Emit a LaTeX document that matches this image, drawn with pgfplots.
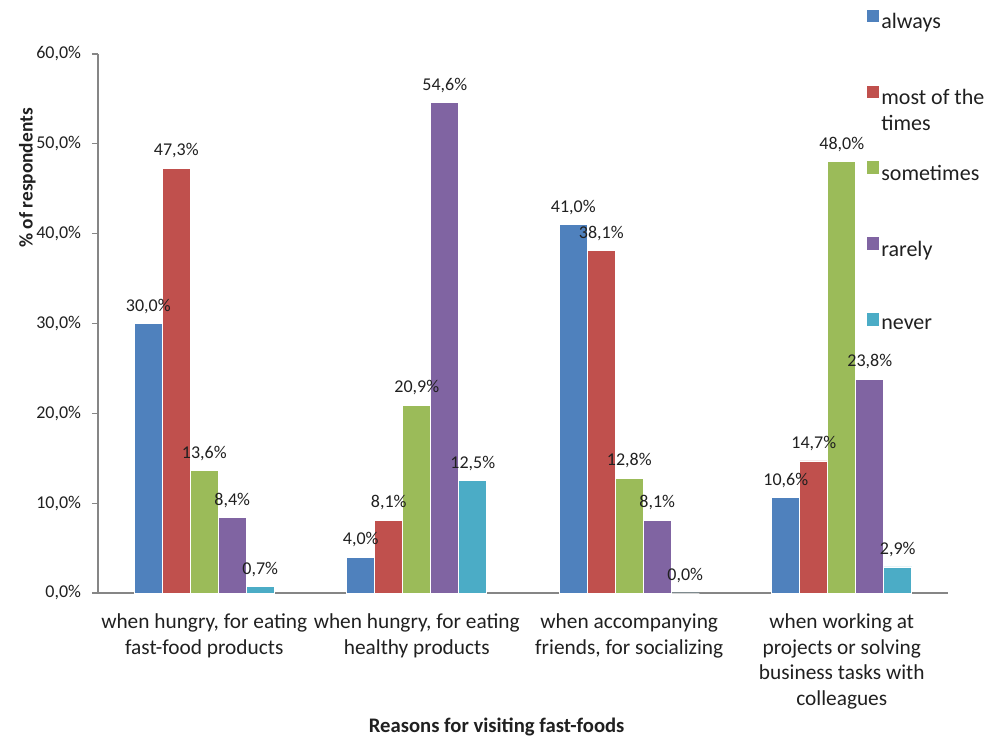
\documentclass[border=0pt]{standalone}
\usepackage{fontspec}
\setmainfont{Carlito}
\usepackage{pgfplots}
\pgfplotsset{compat=1.18}
\definecolor{cA}{HTML}{4F81BD}
\definecolor{cB}{HTML}{C0504D}
\definecolor{cC}{HTML}{9BBB59}
\definecolor{cD}{HTML}{8064A2}
\definecolor{cE}{HTML}{4BACC6}
\definecolor{axgray}{HTML}{868686}
\definecolor{txt}{HTML}{202020}
\begin{document}
\begin{tikzpicture}
\useasboundingbox (-73.5pt,-108pt) rectangle (668.25pt,444.75pt);
\begin{axis}[
  at={(0pt,0pt)}, anchor=south west,
  scale only axis,
  width=637.5pt, height=404.25pt,
  ybar=0pt, bar width=21pt,
  xmin=-0.5, xmax=3.5,
  ymin=0, ymax=60,
  axis x line=bottom, axis y line=left,
  axis line style={-, axgray, line width=0.8pt},
  xtick={0,1,2,3},
  xticklabels={{when hungry, for eating\\fast-food products},{when hungry, for eating\\healthy products},{when accompanying\\friends, for socializing},{when working at\\projects or solving\\business tasks with\\colleagues}},
  xtick style={draw=none},
  xticklabel style={align=center, anchor=north, inner sep=0pt, yshift=-11pt, text=txt, font=\fontsize{16}{19.2}\selectfont},
  ytick={0,10,...,60},
  ytick style={axgray, line width=0.8pt},
  major tick length=4.5pt,
  tick align=outside,
  /pgf/number format/assume math mode=true,
  yticklabel={\pgfmathprintnumber[fixed,fixed zerofill,precision=1,use comma]{\tick}\%},
  yticklabel style={font=\fontsize{13.5}{15}\selectfont, text=txt, inner sep=0pt, xshift=-8pt},
  nodes near coords={\pgfmathprintnumber[fixed,fixed zerofill,precision=1,use comma]{\pgfplotspointmeta}\%},
  nodes near coords style={font=\fontsize{13.5}{15}\selectfont, text=txt, anchor=south, yshift=4pt},
  xlabel={Reasons for visiting fast-foods},
  xlabel style={at={(axis description cs:0.469,-0.249)}, anchor=center, text=txt, font=\bfseries\fontsize{15.5}{18}\selectfont},
  ylabel={\% of respondents},
  ylabel style={at={(axis description cs:-0.083,0.77)}, anchor=center, text=txt, font=\bfseries\fontsize{14.5}{17}\selectfont},
  legend style={at={(axis description cs:0.904,1.083)}, anchor=north west, draw=none, fill=none, inner sep=0pt, row sep=40pt, font=\fontsize{16.5}{19.5}\selectfont, text=txt, nodes={inner sep=1.5pt}},
  legend cell align=left,
  legend image code/.code={\draw[#1, draw=none] (0pt,-0.5pt) rectangle (9.5pt,9pt);},
  every axis plot/.append style={draw=white, line width=0.6pt},
  clip=false,
]
\addplot[fill=cA] coordinates {(0,30.0) (1,4.0) (2,41.0) (3,10.6)};
\addplot[fill=cB] coordinates {(0,47.3) (1,8.1) (2,38.1) (3,14.7)};
\addplot[fill=cC] coordinates {(0,13.6) (1,20.9) (2,12.8) (3,48.0)};
\addplot[fill=cD] coordinates {(0,8.4) (1,54.6) (2,8.1) (3,23.8)};
\addplot[fill=cE] coordinates {(0,0.7) (1,12.5) (2,0.0) (3,2.9)};
\addlegendentry{always}
\addlegendentry{\raisebox{0pt}[\height][0pt]{\parbox[t]{4cm}{most of the\\times}}}
\addlegendentry{sometimes}
\addlegendentry{rarely}
\addlegendentry{never}
\end{axis}
\end{tikzpicture}
\end{document}
